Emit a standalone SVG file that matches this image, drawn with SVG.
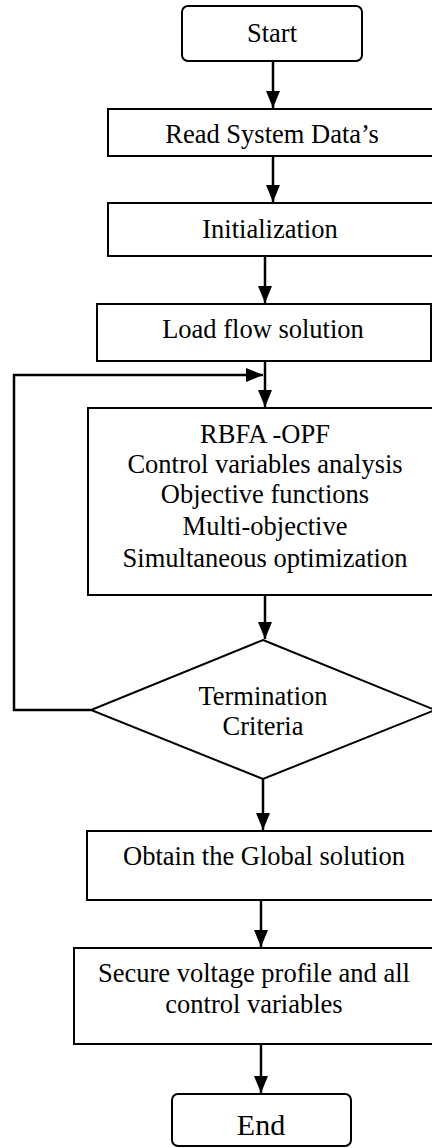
<svg xmlns="http://www.w3.org/2000/svg" width="432" height="1148" viewBox="0 0 432 1148">
  <style>
    .box { fill: #ffffff; stroke: #000000; stroke-width: 2; }
    .lbl { font-family: "Liberation Serif", "Times New Roman", serif; font-size: 26.5px; fill: #000000; text-anchor: middle; }
    .big { font-size: 30px; }
    .edge { fill: none; stroke: #000000; stroke-width: 2.5; marker-end: url(#arrow); }
  </style>
  <defs>
    <marker id="arrow" markerUnits="userSpaceOnUse" markerWidth="17" markerHeight="14" refX="17" refY="7" orient="auto">
      <path d="M0,0 L17,7 L0,14 Z" fill="#000000"/>
    </marker>
  </defs>
  <rect width="432" height="1148" fill="#ffffff"/>

  <g id="connectors">
    <line class="edge" x1="273" y1="61" x2="273" y2="108"/>
    <line class="edge" x1="273" y1="156" x2="273" y2="202"/>
    <line class="edge" x1="265" y1="256" x2="265" y2="303"/>
    <line class="edge" x1="265" y1="361" x2="265" y2="407"/>
    <polyline class="edge" points="91,710 14,710 14,375 263,375"/>
    <line class="edge" x1="265" y1="595" x2="265" y2="639"/>
    <line class="edge" x1="263" y1="779" x2="263" y2="830"/>
    <line class="edge" x1="261" y1="900" x2="261" y2="947"/>
    <line class="edge" x1="261" y1="1044" x2="261" y2="1093"/>
  </g>

  <g id="start">
    <rect class="box" x="182" y="6" width="180" height="55" rx="6"/>
    <text class="lbl" x="272" y="42">Start</text>
  </g>

  <g id="read-data">
    <rect class="box" x="108" y="109" width="340" height="47"/>
    <text class="lbl" x="272" y="143">Read System Data’s</text>
  </g>

  <g id="initialization">
    <rect class="box" x="108" y="203" width="340" height="53"/>
    <text class="lbl" x="270" y="238">Initialization</text>
  </g>

  <g id="load-flow">
    <rect class="box" x="97" y="304" width="334" height="57"/>
    <text class="lbl" x="263" y="338">Load flow solution</text>
  </g>

  <g id="rbfa-opf">
    <rect class="box" x="88" y="408" width="360" height="187"/>
    <text class="lbl" x="265" y="443">RBFA -OPF</text>
    <text class="lbl" x="265" y="473">Control variables analysis</text>
    <text class="lbl" x="265" y="503">Objective functions</text>
    <text class="lbl" x="265" y="535">Multi-objective</text>
    <text class="lbl" x="265" y="567">Simultaneous optimization</text>
  </g>

  <g id="termination">
    <polygon class="box" points="263,640 435,710 263,779 91,710"/>
    <text class="lbl" x="263" y="705">Termination</text>
    <text class="lbl" x="263" y="735">Criteria</text>
  </g>

  <g id="global-solution">
    <rect class="box" x="87" y="831" width="360" height="69"/>
    <text class="lbl" x="264" y="865">Obtain the Global solution</text>
  </g>

  <g id="secure-profile">
    <rect class="box" x="74" y="948" width="374" height="96"/>
    <text class="lbl" x="254" y="982">Secure voltage profile and all</text>
    <text class="lbl" x="254" y="1013">control variables</text>
  </g>

  <g id="end">
    <rect class="box" x="172" y="1094" width="179" height="52" rx="6"/>
    <text class="lbl big" x="261" y="1135">End</text>
  </g>
</svg>
